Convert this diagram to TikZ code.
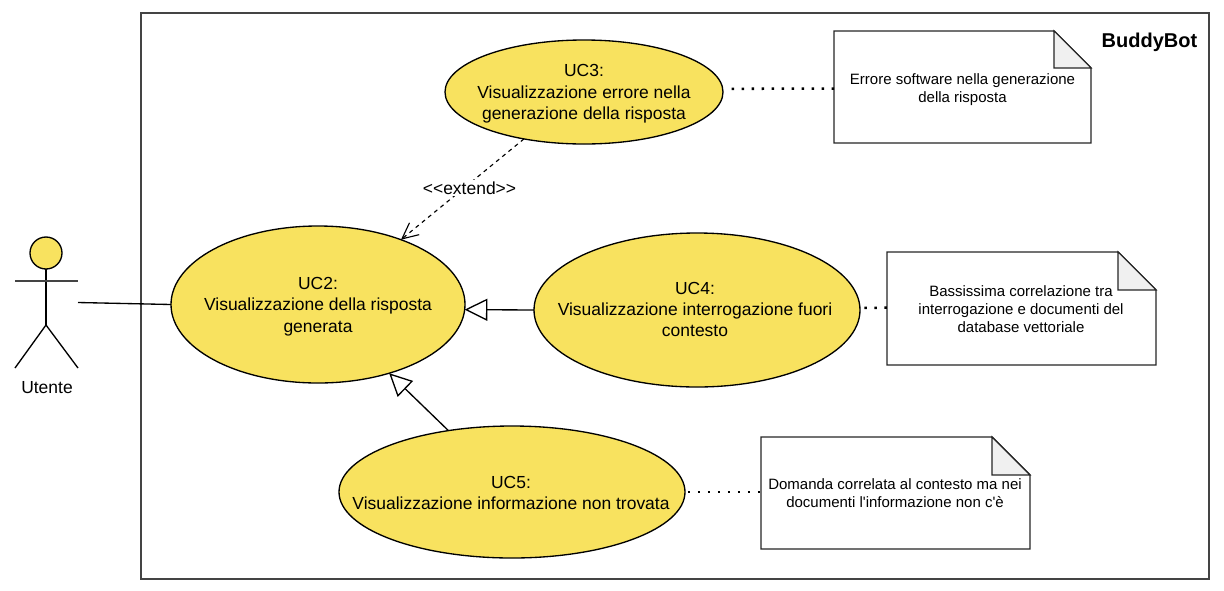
\documentclass[tikz,border=0pt]{standalone}
\usepackage{fontspec}
\setmainfont{Liberation Sans}
\usetikzlibrary{shapes.geometric,arrows.meta,calc}
\definecolor{ucyellow}{HTML}{F8E25F}
\definecolor{foldgray}{HTML}{F0F0F0}
\definecolor{framegray}{HTML}{444444}
\tikzset{
  x=0.75pt,y=-0.75pt,
  usecase/.style={ellipse,draw=black,fill=ucyellow,line width=1pt,inner sep=0pt,outer sep=0pt},
  uctext/.style={align=center,font=\fontsize{13.1}{16}\selectfont,inner sep=0pt},
  notebox/.style={inner sep=0pt,outer sep=0pt,align=center,font=\fontsize{11.25}{13.5}\selectfont},
  noteline/.style={draw=black!85,line width=1.1pt,line join=miter},
  dots/.style={line width=1.9pt,dash pattern=on 1.9pt off 5.6pt},
  assoc/.style={draw=black,line width=1pt},
  general/.style={draw=black,line width=1pt,-{Triangle[open,fill=white,length=17pt,width=16.5pt,line width=1pt]}},
  extends/.style={draw=black,line width=0.85pt,dash pattern=on 3pt off 3pt,-{Straight Barb[length=12pt,width=11.5pt,line width=0.85pt]}},
  limb/.style={draw=black,line width=1pt},
}
\newcommand{\notefold}[2]{%
  \draw[noteline,fill=white] (#1.north west) -- ($(#1.north east)+(-#2,0)$) -- ($(#1.north east)+(0,#2)$) -- (#1.south east) -- (#1.south west) -- cycle;
  \draw[noteline,fill=foldgray,line width=0.8pt] ($(#1.north east)+(-#2,0)$) -- ($(#1.north east)+(-#2,#2)$) -- ($(#1.north east)+(0,#2)$) -- cycle;
}
\begin{document}
\begin{tikzpicture}
\useasboundingbox (0,0) rectangle (1224,590);
% system frame
\node[draw=framegray,line width=1.1pt,minimum width=1068*0.75pt,minimum height=566*0.75pt,inner sep=0pt,outer sep=0pt] (frame) at (675,296) {};
\node[font=\bfseries\fontsize{15}{18}\selectfont,inner sep=0pt] (title) at (1149.5,42) {BuddyBot};
% actor
\node[circle,draw=black,fill=ucyellow,line width=1pt,minimum size=32*0.75pt,inner sep=0pt,outer sep=0pt] (head) at (46,253) {};
\coordinate (hip) at (46,325);
\coordinate (armL) at (15,281);
\coordinate (armR) at (78,281);
\coordinate (footL) at (15,368);
\coordinate (footR) at (78,368);
\coordinate (actorport) at (78,302.5);
\draw[limb] (head.south) -- (hip);
\draw[draw=framegray,line width=1.1pt] (armL) -- (armR);
\draw[limb] (footL) -- (hip) -- (footR);
\node[uctext] (utente) at (47,388) {Utente};
% use cases
\node[usecase,minimum width=294*0.75pt,minimum height=157*0.75pt] (uc2) at (318,304.5) {};
\node[usecase,minimum width=278*0.75pt,minimum height=104*0.75pt] (uc3) at (584,92) {};
\node[usecase,minimum width=326*0.75pt,minimum height=154*0.75pt] (uc4) at (697,310) {};
\node[usecase,minimum width=346*0.75pt,minimum height=132*0.75pt] (uc5) at (512,492) {};
\node[uctext] (uc2t) at (318,306.5) {UC2:\\Visualizzazione della risposta\\generata};
\node[uctext] (uc3t) at (584,94) {UC3:\\Visualizzazione errore nella\\generazione della risposta};
\node[uctext] (uc4t) at (695,309.5) {UC4:\\Visualizzazione interrogazione fuori\\contesto};
\node[uctext] (uc5t) at (511,493) {UC5:\\Visualizzazione informazione non trovata};
% notes
\node[notebox,minimum width=257*0.75pt,minimum height=112*0.75pt] (n1) at (962.5,87) {};
\notefold{n1}{37}
\node[notebox] (n1t) at (962.5,90) {Errore software nella generazione\\della risposta};
\node[notebox,minimum width=269*0.75pt,minimum height=113*0.75pt] (n2) at (1021.5,308.5) {};
\notefold{n2}{38}
\node[notebox] (n2t) at (1021,309) {Bassissima correlazione tra\\interrogazione e documenti del\\database vettoriale};
\node[notebox,minimum width=269*0.75pt,minimum height=112*0.75pt] (n3) at (895.5,493) {};
\notefold{n3}{38}
\node[notebox] (n3t) at (895,493) {Domanda correlata al contesto ma nei\\documenti l\textquotesingle informazione non c\textquotesingle è};
% connectors
\draw[assoc] (actorport) -- (uc2.west);
\draw[extends] (uc3.218.5) -- (uc2.38.6);
\node[fill=white,font=\fontsize{13.1}{16}\selectfont,inner sep=1pt] (extlabel) at (469.5,188) {<{}<extend>{}>};
\draw[general] (uc4.west) -- (uc2.-2);
\draw[general] (uc5.136) -- (uc2.-44.5);
\draw[dots,shorten <=6.4pt] ([yshift=2.4pt]uc3.east) -- ([yshift=-1.2pt]n1.west);
\draw[dots,shorten <=3.3pt] ([yshift=1.6pt]uc4.east) -- ([yshift=0.6pt]n2.west);
\draw[dots,shorten <=2.2pt] (uc5.east) -- ([yshift=0.75pt]n3.west);
\end{tikzpicture}
\end{document}
